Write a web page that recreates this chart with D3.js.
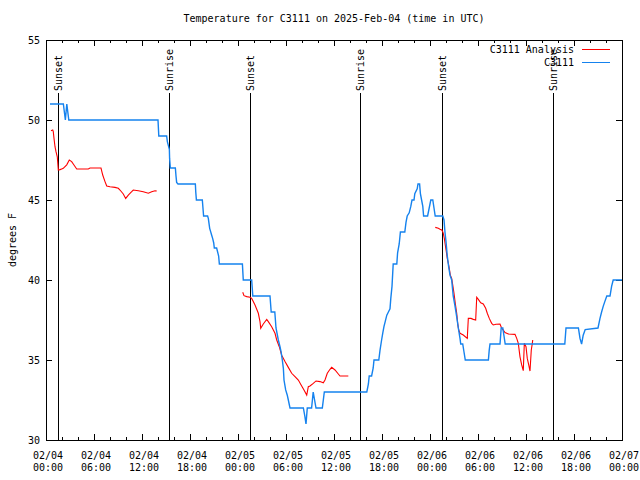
<!DOCTYPE html>
<html><head><meta charset="utf-8">
<script src="https://cdn.jsdelivr.net/npm/d3@7"></script>
<style>
body{margin:0;background:#fff;}
svg{display:block;}
text{font-family:"DejaVu Sans Mono","Liberation Mono",monospace;font-size:10px;fill:#000;}
</style></head><body>
<svg id="chart" width="640" height="480"></svg>
<script>
// ---- DATA (hours after 2025-02-04 00:00 UTC, degrees F) ----
const title = "Temperature for C3111 on 2025-Feb-04 (time in UTC)";
const yLabel = "degrees F";
const seriesNames = ["C3111 Analysis", "C3111"];
const yTicks = [30, 35, 40, 45, 50, 55];

const obsHours = [0.5,2.17,2.42,2.6,2.85,14.0,14.1,15.08,15.17,15.42,15.45,15.54,16.17,16.25,16.33,16.5,18.67,18.72,18.8,19.54,19.62,19.7,20.2,20.29,20.375,20.46,20.58,20.71,20.83,20.96,21.04,21.33,21.58,21.67,24.55,24.66,25.71,25.85,28.0,28.15,28.6,28.75,29.04,29.25,29.38,29.54,29.67,29.75,29.96,30.16,30.29,30.5,32.17,32.35,32.5,32.66,33.2,33.4,33.75,34.54,34.79,40.1,40.3,40.4,40.7,40.9,41.0,41.6,41.75,41.95,42.1,42.25,42.4,42.6,42.8,43.0,43.1,43.25,43.4,43.85,43.95,44.15,44.3,44.85,45.0,45.15,45.4,45.6,45.75,46.0,46.1,46.4,46.5,46.7,46.8,46.95,47.1,47.2,47.7,47.9,48.1,48.35,48.5,48.65,49.6,49.75,49.87,50.0,50.16,50.34,50.5,50.71,50.9,51.1,51.34,51.54,51.75,51.84,52.09,52.25,52.41,55.3,55.4,55.5,56.75,56.9,57.1,57.25,57.4,64.85,65.0,66.55,66.75,66.95,67.15,67.4,69.0,69.25,69.45,69.65,69.85,70.1,70.5,70.7,70.9,72.0];
const obsTemps = [51,51,50,51,50,50,49,49,48.65,48.17,47.6,47,47,46.5,46.1,46,46,45.5,45,45,44.5,44,44,43.85,43.54,43.23,43.02,42.8,42.6,42.33,42,42,41.5,41,41,40,40,39,39,38,38,37,36.25,35.83,35.52,35,34.48,33.75,33.13,32.8,32.5,32,32,31.5,31,32,32,33,32,32,33,33,33.5,34,34,34.5,35,35,35.6,36.25,36.7,37.1,37.4,37.8,38,38.2,38.85,39.6,41,41,41.7,42.25,43,43,43.6,44,44.2,44.6,45,45,45.4,45.7,46,46,45.4,45,44.6,44,44,44.5,45,45,44.5,44,44,43.75,43,42.4,41.5,40.8,40.3,40,39,38.45,37.7,37,36.35,36,36,35.5,35,35,35.6,36,36,37,37,36.5,36,36,37,37,36.35,36,36.55,36.9,37,37.6,38,38.35,38.65,39,39,39.6,40,40];

const anaHours = [0.625,0.84,0.91,1.0,1.125,1.25,1.41,1.54,1.75,1.96,2.16,2.59,2.91,3.21,3.41,3.84,5.29,5.5,6.875,7.09,7.375,7.59,8.0,8.625,9.04,9.25,9.66,9.96,10.29,10.71,10.91,11.54,12.16,12.79,13.21,13.625,13.84,
  null,
  24.59,24.75,25.09,25.5,25.71,25.91,26.125,26.34,26.54,26.75,26.84,27.16,27.59,27.79,28.21,28.625,28.84,29.16,29.46,29.875,30.29,30.71,31.125,31.54,31.96,32.25,32.59,32.79,33.0,33.41,33.75,34.25,34.66,34.875,35.16,35.5,35.71,36.125,36.54,36.75,37.79,
  null,
  48.66,49.04,49.25,49.46,49.59,49.66,49.79,49.91,50.04,50.16,50.29,50.41,50.54,50.71,50.84,51.0,51.16,51.34,51.46,51.59,51.75,52.16,52.66,52.79,53.125,53.41,53.71,53.84,54.04,54.34,54.66,54.96,55.16,55.41,55.71,55.91,56.25,56.75,56.96,57.16,57.375,57.59,57.79,58.625,58.84,59.04,59.25,59.46,59.66,59.79,60.0,60.16,60.34,60.5,60.66,60.79,60.84];
const anaTemps = [49.33,49.38,49.27,48.85,48.33,48.02,47.7,46.875,46.9,46.94,46.98,47.2,47.5,47.4,47.25,46.94,46.94,47,47,46.56,46.15,45.875,45.83,45.79,45.73,45.625,45.375,45.1,45.31,45.52,45.625,45.58,45.52,45.42,45.52,45.58,45.56,
  null,
  39.23,39.02,38.96,38.92,38.85,38.65,38.44,38.17,37.92,37.4,36.98,37.25,37.54,37.4,37.08,36.67,36.25,35.83,35.3,34.9,34.54,34.17,33.96,33.75,33.375,33.125,32.81,33.33,33.375,33.54,33.69,33.65,33.58,33.75,34.17,34.42,34.54,34.375,34.125,34,34,
  null,
  43.29,43.23,43.17,43.125,43.02,42.92,42.6,42.19,41.77,41.35,41.04,40.73,40.3,40.1,39.7,39.17,38.54,37.92,37.29,36.875,36.67,36.56,36.35,37.6,37.6,37.54,37.5,38.92,38.79,38.58,38.5,38.23,37.92,37.6,37.29,37.19,37.23,37.25,36.98,36.875,36.71,36.67,36.625,36.6,36.35,36.04,35.2,34.69,34.33,36.04,35.83,35.1,34.69,34.31,35.625,36.04,36.25];

const sunEventHours = [1.54, 15.41, 25.54, 39.29, 49.54, 63.33];
const sunEventNames = ["Sunset","Sunrise","Sunset","Sunrise","Sunset","Sunrise"];

// ---- CHART ----
const start = Date.UTC(2025, 1, 4, 0, 0);
const toDate = h => new Date(start + h * 3600000);
const svg = d3.select("#chart");
const L = 46, R = 622, T = 40, B = 440;

const x = d3.scaleUtc().domain([toDate(0), toDate(72)]).range([L, R]);
const y = d3.scaleLinear().domain([30, 55]).range([B, T]);

// title
svg.append("text").attr("x", (L + R) / 2).attr("y", 22).attr("text-anchor", "middle").text(title);
// y label
svg.append("text").attr("transform", `translate(12,${(T + B) / 2}) rotate(-90)`)
  .attr("text-anchor", "middle").attr("dominant-baseline", "central").text(yLabel);

const g = svg.append("g").attr("shape-rendering", "crispEdges");

// ticks
const majorX = x.ticks(d3.utcHour.every(6));
const minorX = x.ticks(d3.utcHour.every(2)).filter(d => d.getUTCHours() % 6 !== 0);
const fmtD = d3.utcFormat("%m/%d"), fmtT = d3.utcFormat("%H:%M");
majorX.forEach(d => {
  const px = Math.round(x(d)) + 0.5;
  g.append("line").attr("x1", px).attr("x2", px).attr("y1", B).attr("y2", B - 6).attr("stroke", "#000");
  g.append("line").attr("x1", px).attr("x2", px).attr("y1", T).attr("y2", T + 6).attr("stroke", "#000");
  svg.append("text").attr("x", x(d) + 2).attr("y", 459).attr("text-anchor", "middle").text(fmtD(d));
  svg.append("text").attr("x", x(d) + 2).attr("y", 471).attr("text-anchor", "middle").text(fmtT(d));
});
minorX.forEach(d => {
  const px = Math.round(x(d)) + 0.5;
  g.append("line").attr("x1", px).attr("x2", px).attr("y1", B).attr("y2", B - 3).attr("stroke", "#000");
  g.append("line").attr("x1", px).attr("x2", px).attr("y1", T).attr("y2", T + 3).attr("stroke", "#000");
});
yTicks.forEach(v => {
  const py = Math.round(y(v)) + 0.5;
  g.append("line").attr("x1", L).attr("x2", L + 6).attr("y1", py).attr("y2", py).attr("stroke", "#000");
  g.append("line").attr("x1", R).attr("x2", R - 6).attr("y1", py).attr("y2", py).attr("stroke", "#000");
  svg.append("text").attr("x", 40).attr("y", y(v)).attr("text-anchor", "end")
    .attr("dominant-baseline", "central").text(v);
});

// sunrise / sunset markers
sunEventHours.forEach((h, i) => {
  const px = Math.round(x(toDate(h))) + 0.5;
  g.append("line").attr("x1", px).attr("x2", px).attr("y1", B).attr("y2", 93).attr("stroke", "#000");
  svg.append("text").attr("transform", `translate(${px},91) rotate(-90)`)
    .attr("text-anchor", "start").attr("dominant-baseline", "central").text(sunEventNames[i]);
});

// border
g.append("rect").attr("x", L + 0.5).attr("y", T + 0.5).attr("width", R - L).attr("height", B - T)
  .attr("fill", "none").attr("stroke", "#000");

const obs = obsHours.map((h, i) => ({ t: toDate(h), v: obsTemps[i] }));
const ana = anaHours.map((h, i) => ({ t: h === null ? null : toDate(h), v: anaTemps[i] }));
const line = d3.line().defined(d => d.t !== null && d.v !== null).x(d => x(d.t)).y(d => y(d.v));

svg.append("path").datum(ana).attr("d", line).attr("fill", "none").attr("stroke", "#ff0000").attr("stroke-width", 1.1);
svg.append("path").datum(obs).attr("d", line).attr("fill", "none").attr("stroke", "#1582ee").attr("stroke-width", 1.4);

// legend
const legColors = ["#ff0000", "#1582ee"];
seriesNames.forEach((n, i) => {
  const ly = 49 + i * 13;
  svg.append("text").attr("x", 574).attr("y", ly).attr("text-anchor", "end").attr("dominant-baseline", "central").text(n);
  g.append("line").attr("x1", 582).attr("x2", 610).attr("y1", ly + 0.5).attr("y2", ly + 0.5).attr("stroke", legColors[i]);
});
</script>
</body></html>
